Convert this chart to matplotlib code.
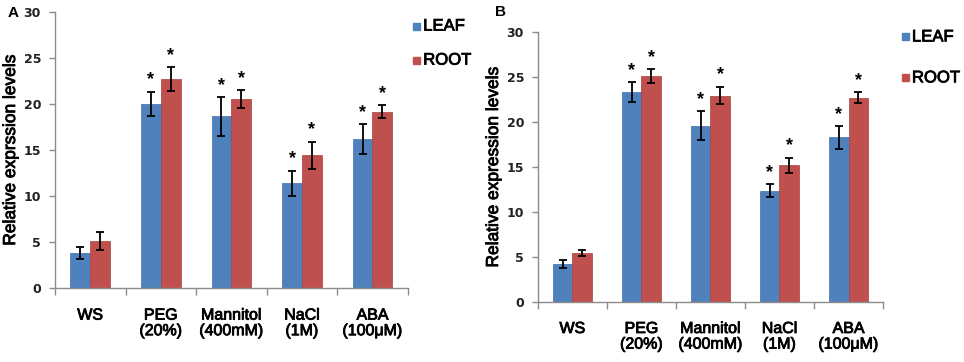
import numpy as np
import matplotlib
matplotlib.use('Agg')
import matplotlib.pyplot as plt
import matplotlib.patheffects as pe

categories = ['WS', 'PEG\n(20%)', 'Mannitol\n(400mM)', 'NaCl\n(1M)', 'ABA\n(100\u03bcM)']

# panel A
leaf_a = [3.85, 20.0, 18.65, 11.4, 16.2]
leaf_a_err = [0.65, 1.3, 2.1, 1.35, 1.6]
root_a = [5.1, 22.65, 20.5, 14.4, 19.15]
root_a_err = [1.0, 1.3, 1.0, 1.5, 0.7]

# panel B
leaf_b = [4.15, 23.35, 19.6, 12.35, 18.3]
leaf_b_err = [0.45, 1.07, 1.6, 0.7, 1.26]
root_b = [5.4, 25.1, 22.95, 15.2, 22.7]
root_b_err = [0.33, 0.76, 1.0, 0.84, 0.6]

# significance flags (WS is the control)
sig = [False, True, True, True, True]

blue = '#4F81BD'
red = '#C0504D'
axcol = '#8c8c8c'
font = 'Liberation Sans'
# slightly heavier text, like the scanned original
heavy = [pe.withStroke(linewidth=0.6, foreground='black')]


def draw_panel(ax, leaf, leaf_err, root, root_err, ylabel):
    x = np.arange(len(categories))
    w = 0.28
    ax.bar(x - w / 2, leaf, w, color=blue, edgecolor='#3f6fa8', linewidth=0.5,
           yerr=leaf_err, error_kw=dict(ecolor='black', elinewidth=1.3, capsize=3, capthick=1.3),
           zorder=2)
    ax.bar(x + w / 2, root, w, color=red, edgecolor='#a8403d', linewidth=0.5,
           yerr=root_err, error_kw=dict(ecolor='black', elinewidth=1.3, capsize=3, capthick=1.3),
           zorder=2)
    for i in range(len(categories)):
        if sig[i]:
            ax.text(x[i] - w / 2, leaf[i] + leaf_err[i] + 0.35, '*', ha='center', va='bottom',
                    fontsize=13, fontweight='bold', family=font)
            ax.text(x[i] + w / 2, root[i] + root_err[i] + 0.35, '*', ha='center', va='bottom',
                    fontsize=13, fontweight='bold', family=font)

    ax.set_xlim(-0.5, len(categories) - 0.5)
    ax.set_ylim(0, 30)
    ax.set_yticks(np.arange(0, 31, 5))
    ax.set_yticklabels([str(v) for v in range(0, 31, 5)], fontsize=9, fontweight='bold',
                       family='DejaVu Sans', color='#222222')
    # category labels between boundary ticks
    ax.set_xticks(np.arange(-0.5, len(categories), 1.0))
    ax.set_xticklabels([])
    ax.set_xticks(x, minor=True)
    ax.set_xticklabels(categories, minor=True, fontsize=11.5, family=font, linespacing=1.05)
    for t in ax.get_xticklabels(minor=True):
        t.set_path_effects(heavy)
    ax.tick_params(axis='x', which='major', direction='out', length=5, color=axcol, width=1)
    ax.tick_params(axis='x', which='minor', length=0, pad=14)
    ax.tick_params(axis='y', direction='out', length=4, color=axcol, width=1, pad=6)
    for s in ['top', 'right']:
        ax.spines[s].set_visible(False)
    for s in ['left', 'bottom']:
        ax.spines[s].set_color(axcol)
        ax.spines[s].set_linewidth(1)
    yl = ax.set_ylabel(ylabel, fontsize=12.5, family=font, labelpad=4)
    yl.set_path_effects(heavy)


fig = plt.figure(figsize=(9.64, 3.62), dpi=100)

ax1 = fig.add_axes([0.057, 0.204, 0.366, 0.764])
draw_panel(ax1, leaf_a, leaf_a_err, root_a, root_a_err, 'Relative exprssion levels')
ax2 = fig.add_axes([0.558, 0.167, 0.358, 0.744])
draw_panel(ax2, leaf_b, leaf_b_err, root_b, root_b_err, 'Relative expression levels')

fig.text(0.008, 0.965, 'A', fontsize=11, fontweight='bold', family=font, va='center')
fig.text(0.514, 0.968, 'B', fontsize=11, fontweight='bold', family=font, va='center')

# legends drawn as square markers + text
for (lx, ly1, ly2) in [(0.432, 0.928, 0.834), (0.939, 0.898, 0.785)]:
    fig.patches.append(plt.Rectangle((lx - 0.0035, ly1 - 0.0095), 0.007, 0.019,
                                     transform=fig.transFigure, color=blue))
    fig.patches.append(plt.Rectangle((lx - 0.0035, ly2 - 0.0095), 0.007, 0.019,
                                     transform=fig.transFigure, color=red))
    fig.text(lx + 0.007, ly1, 'LEAF', fontsize=12, family=font, va='center', path_effects=heavy)
    fig.text(lx + 0.007, ly2, 'ROOT', fontsize=12, family=font, va='center', path_effects=heavy)

fig.savefig('out.png', dpi=100)
